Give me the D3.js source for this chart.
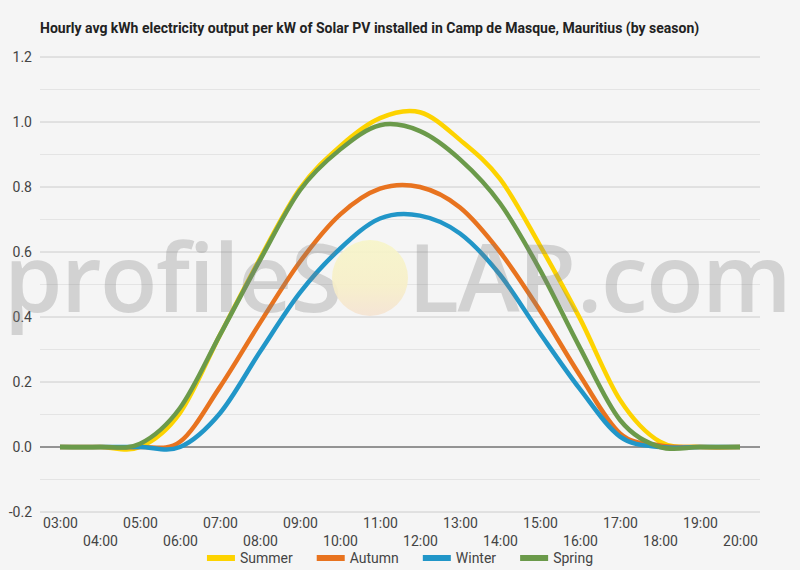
<!DOCTYPE html>
<html>
<head>
<meta charset="utf-8">
<script src="https://cdn.jsdelivr.net/npm/d3@7"></script>
<style>
  body { margin: 0; background: #f5f5f5; }
  svg { display: block; font-family: Roboto, "Noto Sans", sans-serif; }
</style>
</head>
<body>
<svg id="chart" width="800" height="570"></svg>
<script>
// Hourly values (kWh per kW installed).
const hours = ["03:00", "04:00", "05:00", "06:00", "07:00", "08:00", "09:00",
  "10:00", "11:00", "12:00", "13:00", "14:00", "15:00", "16:00", "17:00",
  "18:00", "19:00", "20:00"];
const summer = [0, 0, 0, 0.105, 0.345, 0.58, 0.795, 0.925, 1.012, 1.03, 0.945,
  0.825, 0.62, 0.395, 0.145, 0.016, 0, 0];
const autumn = [0, 0, 0, 0.016, 0.185, 0.382, 0.57, 0.715, 0.795, 0.80, 0.737,
  0.60, 0.42, 0.22, 0.042, 0.005, 0, 0];
const winter = [0, 0, 0, 0, 0.104, 0.293, 0.475, 0.61, 0.703, 0.712, 0.657,
  0.53, 0.35, 0.178, 0.032, 0, 0, 0];
const spring = [0, 0, 0.01, 0.12, 0.345, 0.575, 0.79, 0.915, 0.99, 0.972, 0.885,
  0.75, 0.545, 0.305, 0.083, 0, 0, 0];
const season_names = ["Summer", "Autumn", "Winter", "Spring"];
const y_ticks = [-0.2, 0, 0.2, 0.4, 0.6, 0.8, 1.0, 1.2];
const y_tick_labels = ["-0.2", "0.0", "0.2", "0.4", "0.6", "0.8", "1.0", "1.2"];
const y_minor = [-0.1, 0.1, 0.3, 0.5, 0.7, 0.9, 1.1];

const colors = ["#fdd300", "#e8731f", "#2196c8", "#6b9a4a"];
const series = [summer, autumn, winter, spring];

const svg = d3.select("#chart");
const plot_left = 40, plot_right = 760, plot_top = 57, plot_bottom = 512;

svg.append("rect").attr("width", 800).attr("height", 570).attr("fill", "#f5f5f5");

const x = d3.scalePoint().domain(hours).range([plot_left, plot_right]).padding(0.5);
const y = d3.scaleLinear().domain([-0.2, 1.2]).range([plot_bottom, plot_top]);

svg.append("text")
  .attr("x", 40).attr("y", 33)
  .attr("font-size", 14).attr("font-weight", 700).attr("fill", "#222")
  .text("Hourly avg kWh electricity output per kW of Solar PV installed in Camp de Masque, Mauritius (by season)");

// Grid: light lines every 0.1, darker every 0.2, black baseline at zero.
const grid = svg.append("g");
grid.selectAll("line.minor").data(y_minor).join("line")
  .attr("class", "minor")
  .attr("x1", plot_left).attr("x2", plot_right)
  .attr("y1", d => y(d)).attr("y2", d => y(d))
  .attr("stroke", "#e4e4e4");
grid.selectAll("line.major").data(y_ticks).join("line")
  .attr("class", "major")
  .attr("x1", plot_left).attr("x2", plot_right)
  .attr("y1", d => y(d)).attr("y2", d => y(d))
  .attr("stroke", d => d === 0 ? "#333" : "#cccccc");

const y_axis = svg.append("g")
  .attr("transform", `translate(${plot_left - 8},0)`)
  .call(d3.axisLeft(y).tickValues(y_ticks).tickSize(0)
    .tickFormat((d, i) => y_tick_labels[i]));
y_axis.select(".domain").remove();
y_axis.selectAll("text")
  .attr("font-family", "Roboto").attr("font-size", 14).attr("fill", "#444")
  .attr("x", 0);

// Hours alternate between two rows, like the original.
const x_axis = svg.append("g")
  .attr("transform", `translate(0,${plot_bottom})`)
  .call(d3.axisBottom(x).tickSize(0));
x_axis.select(".domain").remove();
x_axis.selectAll("text")
  .attr("font-family", "Roboto").attr("font-size", 14).attr("fill", "#444")
  .attr("dy", null)
  .attr("y", (d, i) => i % 2 === 0 ? 16 : 34);

const line = d3.line()
  .x((d, i) => x(hours[i]))
  .y(d => y(d))
  .curve(d3.curveCardinal.tension(0));

svg.append("g").selectAll("path").data(series).join("path")
  .attr("d", line)
  .attr("fill", "none")
  .attr("stroke", (d, i) => colors[i])
  .attr("stroke-width", 4.5)
  .attr("stroke-linejoin", "round");

// profileSOLAR watermark sits on top of the lines.
const defs = svg.append("defs");
const sun_grad = defs.append("linearGradient")
  .attr("id", "sun").attr("x1", 0).attr("y1", 0).attr("x2", 0).attr("y2", 1);
sun_grad.append("stop").attr("offset", "0%").attr("stop-color", "#f7f5c8");
sun_grad.append("stop").attr("offset", "60%").attr("stop-color", "#f7efc8");
sun_grad.append("stop").attr("offset", "100%").attr("stop-color", "#f5e3d2");

const mark = svg.append("g")
  .attr("font-family", "Open Sans").attr("font-size", 94)
  .attr("font-weight", 600).attr("letter-spacing", -1.5);
mark.append("text").attr("x", 4).attr("y", 312)
  .attr("fill", "#808080").attr("fill-opacity", 0.3).text("profileS");
mark.append("ellipse")
  .attr("cx", 370).attr("cy", 278).attr("rx", 38).attr("ry", 38)
  .attr("fill", "url(#sun)").attr("fill-opacity", 0.9);
mark.append("text").attr("x", 408).attr("y", 312)
  .attr("fill", "#808080").attr("fill-opacity", 0.3).text("LAR.com");

// Legend centred under the axis.
const legend = svg.append("g");
const items = legend.selectAll("g").data(season_names).join("g");
items.append("rect")
  .attr("y", 555).attr("width", 28).attr("height", 6)
  .attr("fill", (d, i) => colors[i]);
items.append("text")
  .attr("x", 33).attr("y", 563)
  .attr("font-size", 14).attr("fill", "#444")
  .text(d => d);
let pos = 0;
const offsets = [];
items.each(function () {
  offsets.push(pos);
  pos += 33 + this.querySelector("text").getComputedTextLength() + 24;
});
const total = pos - 24;
items.attr("transform", (d, i) => `translate(${400 - total / 2 + offsets[i]},0)`);
</script>
</body>
</html>
